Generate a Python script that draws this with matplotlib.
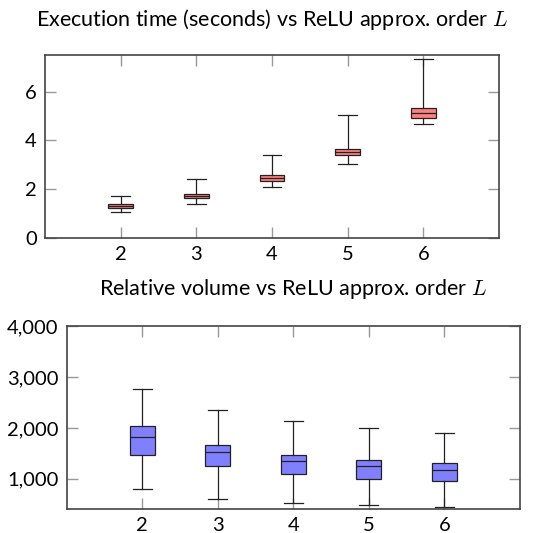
import numpy as np
import matplotlib.pyplot as plt
from matplotlib.ticker import FuncFormatter

# ReLU approximation orders
orders = [2, 3, 4, 5, 6]

# execution time (seconds): whisker low, q1, median, q3, whisker high
time_low = [1.06, 1.38, 2.09, 3.04, 4.67]
time_q1 = [1.21, 1.64, 2.34, 3.38, 4.90]
time_med = [1.30, 1.72, 2.46, 3.51, 5.11]
time_q3 = [1.40, 1.81, 2.59, 3.64, 5.31]
time_high = [1.71, 2.42, 3.38, 5.04, 7.34]

# relative volume
vol_low = [791, 606, 528, 476, 449]
vol_q1 = [1472, 1244, 1093, 1000, 955]
vol_med = [1827, 1526, 1348, 1250, 1177]
vol_q3 = [2031, 1663, 1472, 1374, 1309]
vol_high = [2772, 2352, 2130, 1998, 1900]

plt.rcParams['font.family'] = ['Lato', 'DejaVu Sans']
plt.rcParams['mathtext.fontset'] = 'cm'
plt.rcParams['font.size'] = 14.5


def make_stats(low, q1, med, q3, high):
    stats = []
    for i in range(len(med)):
        stats.append(dict(whislo=low[i], q1=q1[i], med=med[i], q3=q3[i], whishi=high[i], fliers=[]))
    return stats


def draw_box(ax, stats, color):
    ax.bxp(stats, positions=orders, widths=0.33, capwidths=0.25, patch_artist=True,
           showfliers=False,
           boxprops=dict(facecolor=color, edgecolor='#222222', linewidth=0.9),
           medianprops=dict(color='#222222', linewidth=0.9),
           whiskerprops=dict(color='#222222', linewidth=0.9),
           capprops=dict(color='#222222', linewidth=0.9))
    ax.set_xlim(1, 7)
    ax.set_xticks(orders)
    ax.set_xticklabels([str(o) for o in orders])
    ax.tick_params(direction='in', length=8, width=1, color='#999999',
                   top=True, right=True, pad=6)
    for s in ax.spines.values():
        s.set_color('#444444')
        s.set_linewidth(1.2)


fig = plt.figure(figsize=(5.59, 5.33), dpi=100)

# top: execution time
ax1 = fig.add_axes([0.0805, 0.554, 0.8122, 0.3428])
draw_box(ax1, make_stats(time_low, time_q1, time_med, time_q3, time_high), '#ff8080')
ax1.set_ylim(0, 7.5)
ax1.set_yticks([0, 2, 4, 6])
fig.text(0.487, 1 - 19 / 533, r'Execution time (seconds) vs ReLU approx. order $L$',
         ha='center', va='center', fontsize=15.5)

# bottom: relative volume
ax2 = fig.add_axes([0.1193, 0.0456, 0.8109, 0.3422])
draw_box(ax2, make_stats(vol_low, vol_q1, vol_med, vol_q3, vol_high), '#8080ff')
ax2.set_ylim(410, 4000)
ax2.set_yticks([1000, 2000, 3000, 4000])
ax2.yaxis.set_major_formatter(FuncFormatter(lambda v, p: f'{int(v):,}'))
fig.text(0.525, 1 - 289 / 533, r'Relative volume vs ReLU approx. order $L$',
         ha='center', va='center', fontsize=15.5)

fig.savefig('out.png', dpi=100)
